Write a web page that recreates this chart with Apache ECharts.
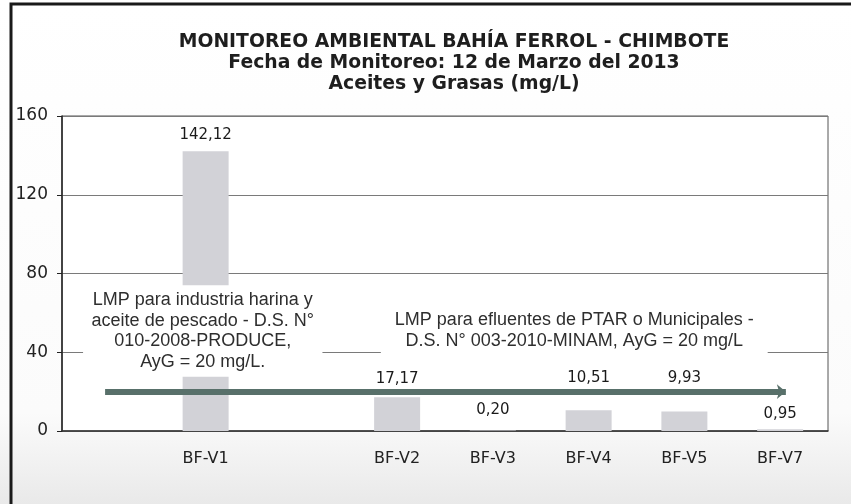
<!DOCTYPE html>
<html lang="es">
<head>
    <meta charset="UTF-8">
    <title>Aceites y Grasas</title>
    <style>
        html, body { margin: 0; padding: 0; background: #ffffff; }
    </style>
</head>
<body>
    <div id="main" style="width: 851px;height:504px;"></div>
    <script src="https://cdn.jsdelivr.net/npm/echarts@6/dist/echarts.min.js"></script>
    <script>
        // estaciones (los huecos vacíos son como en el original)
        var estaciones = ['', 'BF-V1', '', 'BF-V2', 'BF-V3', 'BF-V4', 'BF-V5', 'BF-V7'];
        var aceites = [null, 142.12, null, 17.17, 0.20, 10.51, 9.93, 0.95];
        var yTicks = [0, 40, 80, 120, 160];
        var lmp = 20;
        var notaProduce = 'LMP para industria harina y\naceite de pescado - D.S. N°\n010-2008-PRODUCE,\nAyG = 20 mg/L.';
        var notaMinam = 'LMP para efluentes de PTAR o Municipales -\nD.S. N° 003-2010-MINAM, AyG = 20 mg/L';

        var myChart = echarts.init(document.getElementById('main'));

        // separación de cada etiqueta respecto a su barra
        var gap = {1: 9, 3: 11, 4: 13, 5: 25, 6: 26, 7: 8};

        var barData = [];
        for (var i = 0; i < aceites.length; i++) {
            if (aceites[i] === null) { barData.push(null); continue; }
            barData.push({ value: aceites[i], label: { distance: gap[i] } });
        }

        var option = {
            backgroundColor: new echarts.graphic.LinearGradient(0, 0, 0, 1, [
                { offset: 0, color: '#ffffff' },
                { offset: 0.82, color: '#fbfbfb' },
                { offset: 1, color: '#e9e9e9' }
            ]),
            title: {
                text: 'MONITOREO AMBIENTAL BAHÍA FERROL - CHIMBOTE\nFecha de Monitoreo: 12 de Marzo del 2013\nAceites y Grasas (mg/L)',
                left: 449,
                top: 27,
                textAlign: 'center',
                textStyle: {
                    fontFamily: 'DejaVu Sans',
                    fontSize: 18.8,
                    fontWeight: 'bold',
                    color: '#1e1e1e',
                    lineHeight: 21
                }
            },
            graphic: [{
                type: 'rect',
                shape: { x: 11, y: 4, width: 900, height: 560 },
                style: { fill: 'none', stroke: '#1a1a1a', lineWidth: 3 },
                silent: true
            }],
            grid: {
                left: 62,
                right: 23,
                top: 116,
                bottom: 73,
                show: true,
                backgroundColor: '#ffffff',
                borderColor: '#555',
                borderWidth: 1
            },
            xAxis: [{
                type: 'category',
                data: estaciones,
                axisLine: { lineStyle: { color: '#333', width: 1.5 } },
                axisTick: { length: 4, lineStyle: { color: '#333' } },
                axisLabel: {
                    margin: 20,
                    fontFamily: 'DejaVu Sans',
                    fontSize: 16,
                    color: '#222'
                }
            }, {
                type: 'value',
                min: 0,
                max: estaciones.length,
                show: false
            }],
            yAxis: {
                type: 'value',
                min: yTicks[0],
                max: yTicks[yTicks.length - 1],
                interval: yTicks[1] - yTicks[0],
                axisLine: { show: true, lineStyle: { color: '#222', width: 1.5 } },
                axisTick: { show: true, length: 5, lineStyle: { color: '#222' } },
                axisLabel: {
                    margin: 14,
                    fontFamily: 'DejaVu Sans',
                    fontSize: 17,
                    color: '#222'
                },
                splitLine: { lineStyle: { color: '#7a7a7a', width: 1 } }
            },
            series: [
                {
                    type: 'bar',
                    data: barData,
                    barWidth: 46,
                    itemStyle: { color: '#d2d2d7' },
                    label: {
                        show: true,
                        position: 'top',
                        fontFamily: 'DejaVu Sans',
                        fontSize: 15,
                        color: '#1a1a1a',
                        formatter: function (p) {
                            return p.value.toFixed(2).replace('.', ',');
                        }
                    },
                    z: 2
                },
                {
                    type: 'line',
                    xAxisIndex: 1,
                    data: [],
                    silent: true,
                    z: 5,
                    markArea: {
                        silent: true,
                        z: 4,
                        itemStyle: { color: '#ffffff', borderWidth: 0 },
                        label: {
                            show: true,
                            position: 'inside',
                            fontFamily: 'Liberation Sans',
                            fontSize: 18,
                            lineHeight: 20.5,
                            color: '#2e2e2e',
                            align: 'center'
                        },
                        data: [
                            [{ coord: [0.22, 74], label: { formatter: notaProduce } }, { coord: [2.72, 27.5] }],
                            [{ coord: [3.33, 66.5], label: { formatter: notaMinam } }, { coord: [7.37, 35.5] }]
                        ]
                    },
                    markLine: {
                        silent: true,
                        z: 6,
                        symbol: ['none', 'arrow'],
                        symbolSize: [11, 9],
                        label: { show: false },
                        lineStyle: { color: '#58706a', width: 6, type: 'solid' },
                        data: [
                            [{ coord: [0.45, lmp] }, { coord: [7.56, lmp] }]
                        ]
                    }
                }
            ]
        };

        myChart.setOption(option);
    </script>
</body>
</html>
